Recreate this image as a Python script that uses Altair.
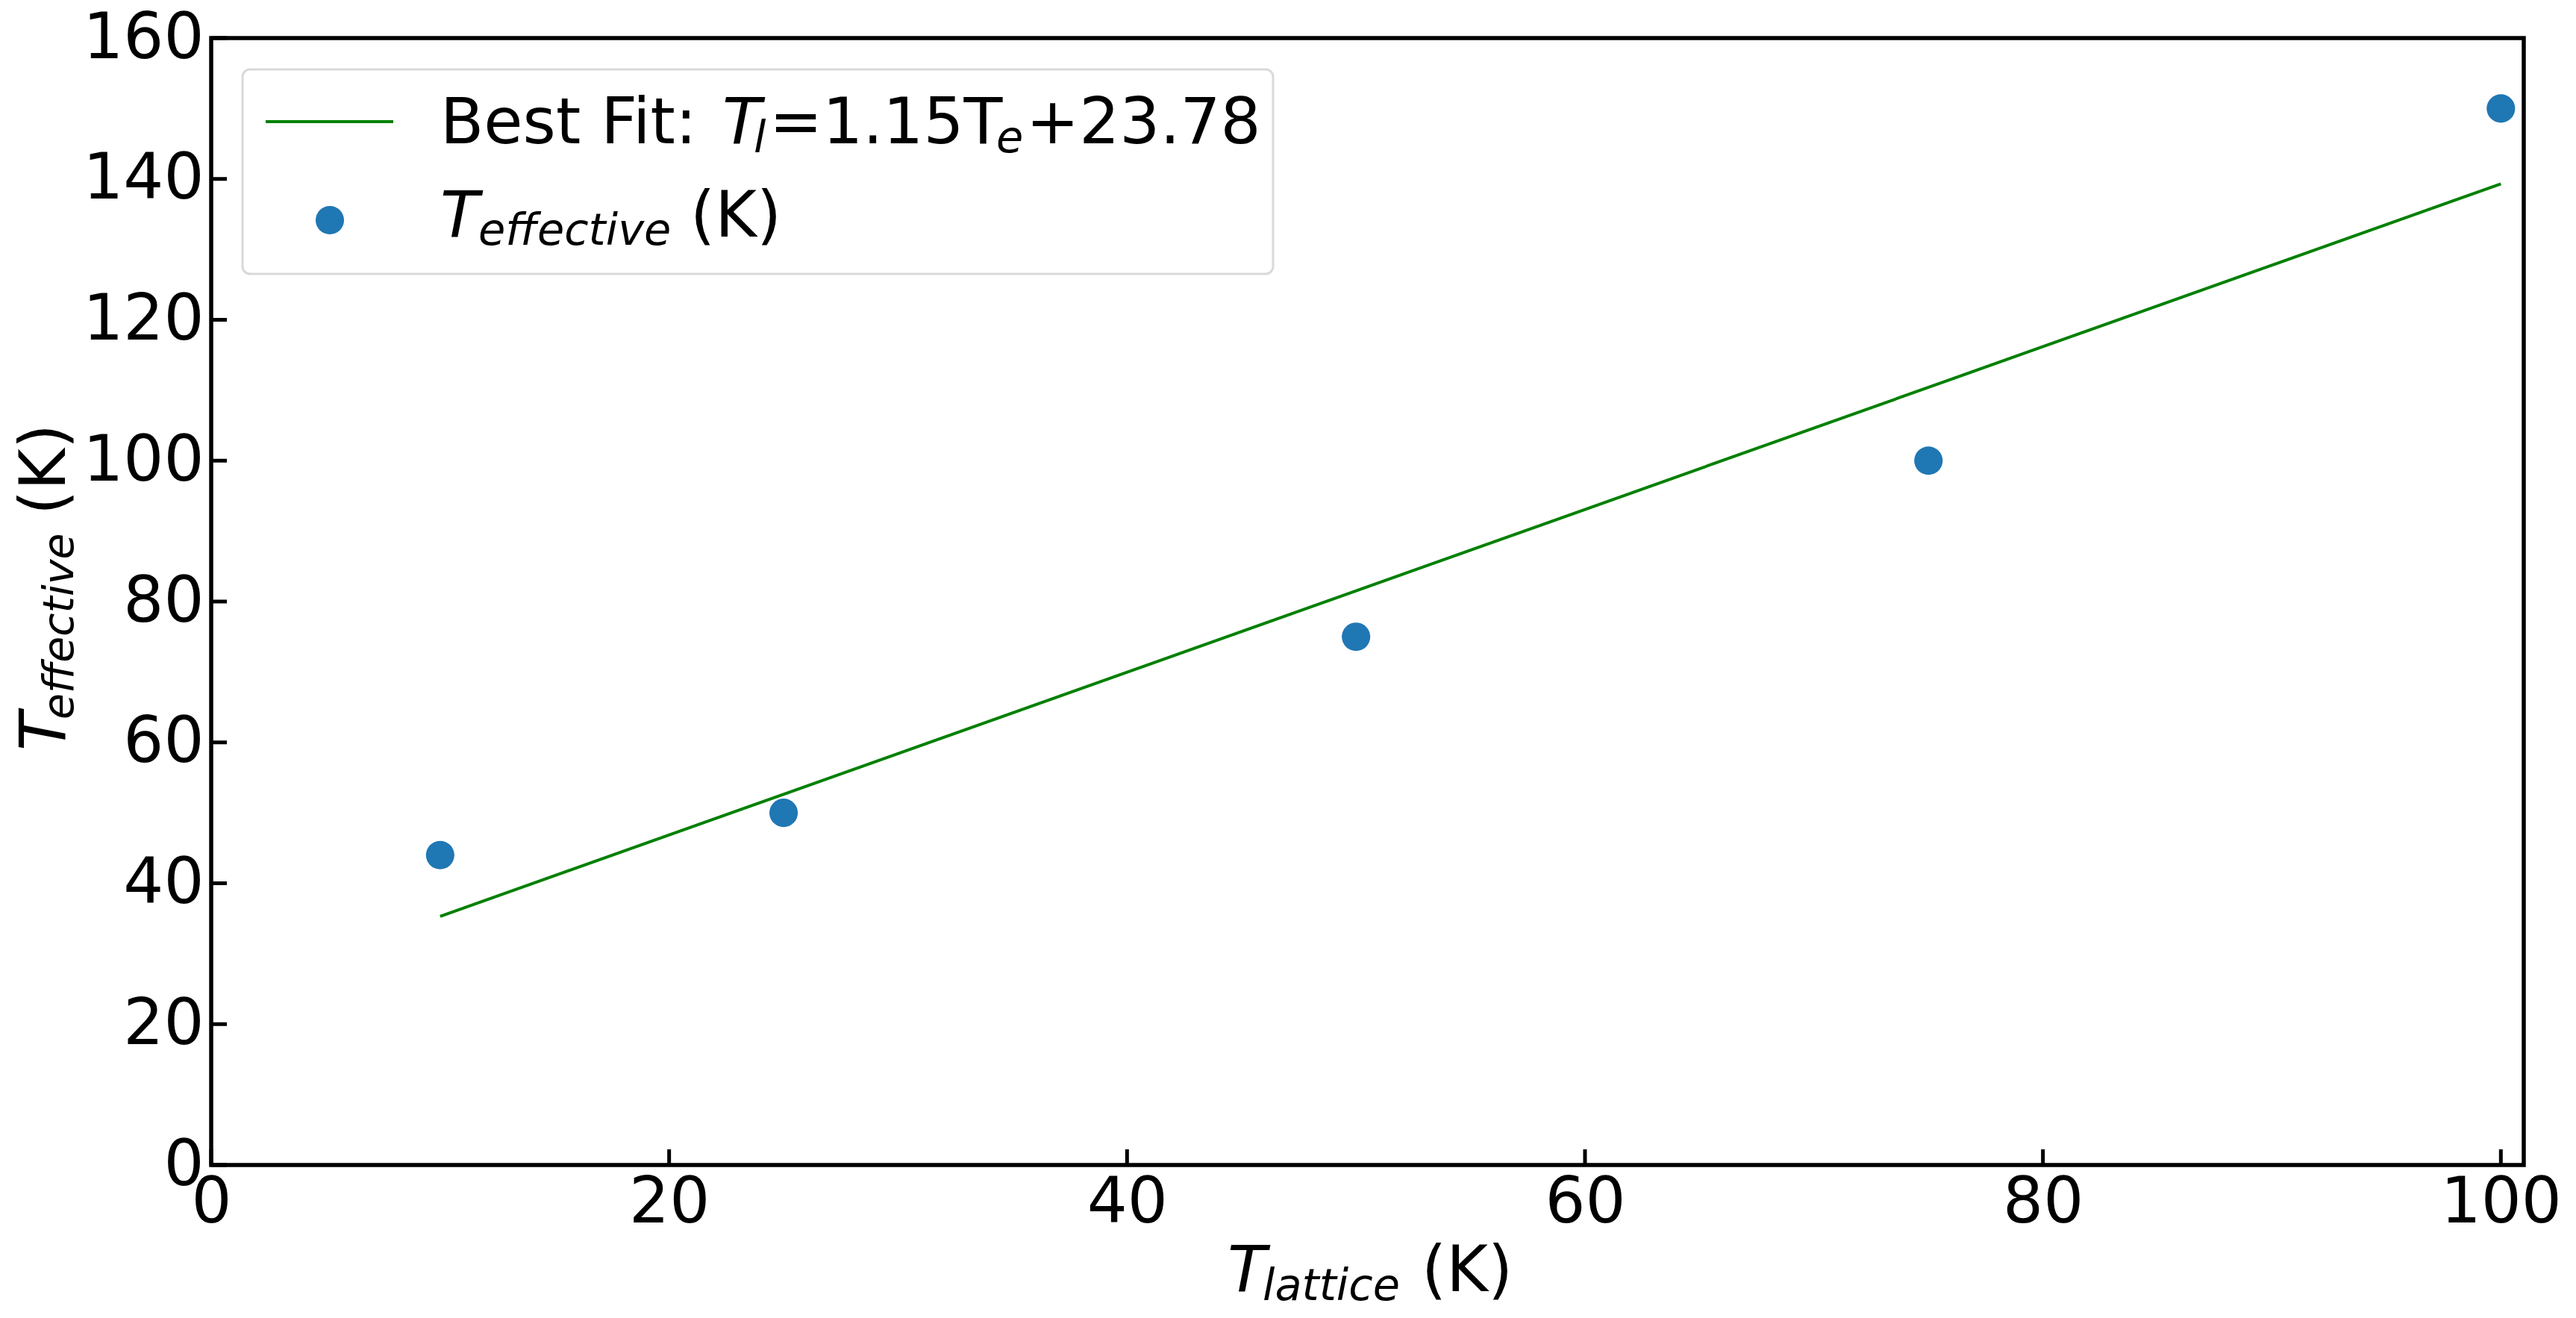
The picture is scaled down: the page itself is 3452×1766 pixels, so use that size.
import altair as alt
import pandas as pd

# ---- data ----
t_lattice = [10, 25, 50, 75, 100]
t_effective = [44, 50, 75, 100, 150]
fit_x = [10, 100]
fit_y = [35.3, 139.3]
x_ticks = [0, 20, 40, 60, 80, 100]
y_ticks = [0, 20, 40, 60, 80, 100, 120, 140, 160]

FONT = "DejaVu Sans"
FS = 85
SUB = 59
DOT = 1450
W, H = 3099, 1510

pts = pd.DataFrame({"x": t_lattice, "y": t_effective})
fit = pd.DataFrame({"x": fit_x, "y": fit_y})

xscale = alt.Scale(domain=[0, 101], nice=False, zero=False)
yscale = alt.Scale(domain=[0, 160], nice=False, zero=False)

xaxis = alt.Axis(values=x_ticks, ticks=False, domain=False, grid=False, title=None,
                 labelFont=FONT, labelFontSize=FS, labelColor="black", labelPadding=9,
                 labelFlush=False, labelOverlap=False)
yaxis = alt.Axis(values=y_ticks, ticks=False, domain=False, grid=False, title=None,
                 labelFont=FONT, labelFontSize=FS, labelColor="black", labelPadding=10,
                 labelOverlap=False)

scatter = alt.Chart(pts).mark_circle(size=DOT, color="#1f77b4", opacity=1).encode(
    x=alt.X("x:Q", scale=xscale, axis=xaxis),
    y=alt.Y("y:Q", scale=yscale, axis=yaxis),
)

line = alt.Chart(fit).mark_line(color="#008000", strokeWidth=4).encode(
    x=alt.X("x:Q", scale=xscale),
    y=alt.Y("y:Q", scale=yscale),
)

xt = alt.Chart(pd.DataFrame({"v": x_ticks})).mark_rule(color="black", strokeWidth=5).encode(
    x=alt.X("v:Q", scale=xscale), y=alt.value(H), y2=alt.value(H - 21)
)
yt = alt.Chart(pd.DataFrame({"v": y_ticks})).mark_rule(color="black", strokeWidth=5).encode(
    y=alt.Y("v:Q", scale=yscale), x=alt.value(0), x2=alt.value(21)
)


def txt(s, x, y, size=FS, italic=False, angle=0):
    return alt.Chart(alt.Data(values=[{"t": s}])).mark_text(
        font=FONT, fontSize=size, fontStyle="italic" if italic else "normal",
        align="left", baseline="alphabetic", color="black", angle=angle,
    ).encode(text="t:N", x=alt.value(x), y=alt.value(y))


# legend frame and symbols
legend_box = alt.Chart(alt.Data(values=[{"k": 1}])).mark_rect(
    fill="white", fillOpacity=0.8, stroke="#d9d9d9", strokeWidth=3, cornerRadius=10
).encode(x=alt.value(42), x2=alt.value(1423), y=alt.value(42), y2=alt.value(316))
legend_line = alt.Chart(alt.Data(values=[{"k": 1}])).mark_rule(
    color="#008000", strokeWidth=4
).encode(x=alt.value(73), x2=alt.value(244), y=alt.value(112))
legend_dot = alt.Chart(alt.Data(values=[{"k": 1}])).mark_circle(
    size=DOT, color="#1f77b4", opacity=1
).encode(x=alt.value(159), y=alt.value(244))

texts = [
    # legend row 1
    txt("Best Fit: ", 307, 141),
    txt("T", 685, 141, italic=True),
    txt("l", 727, 153, size=SUB, italic=True),
    txt("=1.15T", 748, 141),
    txt("e", 1052, 153, size=SUB, italic=True),
    txt("+23.78", 1092, 141),
    # legend row 2
    txt("T", 307, 266, italic=True),
    txt("effective", 358, 277, size=SUB, italic=True),
    txt("(K)", 642, 266),
    # x title
    txt("T", 1362, 1679, italic=True),
    txt("lattice", 1409, 1691, size=SUB, italic=True),
    txt("(K)", 1622, 1679),
    # y title (rotated)
    txt("T", -196, 955, italic=True, angle=270),
    txt("effective", -185, 913, size=57, italic=True, angle=270),
    txt("(K)", -196, 639, angle=270),
]

chart = alt.layer(line, scatter, xt, yt, legend_box, legend_line, legend_dot, *texts).properties(
    width=W, height=H,
    autosize=alt.AutoSizeParams(type="none"),
    padding={"left": 275, "top": 43, "right": 50, "bottom": 195},
    background="white",
).configure_view(stroke="black", strokeWidth=5.5)

chart.save("out.html", embed_options={"renderer": "svg", "actions": False})
